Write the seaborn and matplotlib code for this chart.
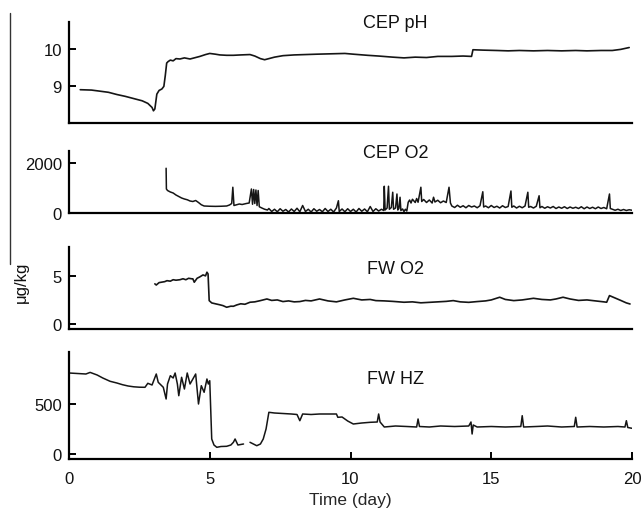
import matplotlib
matplotlib.use("Agg")
import matplotlib.pyplot as plt
from matplotlib.lines import Line2D
import numpy as np
import pandas as pd
import seaborn as sns

# ---- data (time in days) ----
ph_day = [0.4, 0.8, 1.1, 1.4, 1.7, 2.0, 2.3, 2.6, 2.8, 2.95, 3.0, 3.05, 3.12, 3.2, 3.3,
          3.37, 3.42, 3.47, 3.52, 3.6, 3.7, 3.8, 3.94, 4.1, 4.3, 4.5, 4.65, 4.85, 5.0, 5.2,
          5.36, 5.6, 5.84, 6.1, 6.43, 6.6, 6.8, 6.95, 7.1, 7.3, 7.6, 8.0, 8.4, 8.8, 9.3,
          9.8, 10.1, 10.6, 11.0, 11.5, 11.9, 12.3, 12.7, 13.1, 13.6, 14.0, 14.3, 14.35, 14.7, 15.2,
          15.6, 16.0, 16.5, 17.0, 17.5, 18.0, 18.4, 18.9, 19.3, 19.6, 19.9]
ph_val = [8.90, 8.89, 8.86, 8.83, 8.77, 8.72, 8.66, 8.60, 8.53, 8.42, 8.33, 8.38, 8.78, 8.88, 8.92,
          8.99, 9.28, 9.62, 9.66, 9.70, 9.68, 9.74, 9.73, 9.76, 9.73, 9.77, 9.80, 9.85, 9.88, 9.86,
          9.84, 9.83, 9.83, 9.84, 9.85, 9.81, 9.74, 9.71, 9.74, 9.78, 9.82, 9.84, 9.85, 9.86, 9.87,
          9.88, 9.86, 9.83, 9.81, 9.78, 9.76, 9.78, 9.77, 9.80, 9.80, 9.81, 9.80, 9.98, 9.97, 9.96,
          9.95, 9.96, 9.95, 9.96, 9.95, 9.96, 9.95, 9.96, 9.96, 9.99, 10.04]

cep_o2_day = [3.45, 3.46, 3.5, 3.6, 3.7, 3.8, 3.9, 4.0, 4.1, 4.2, 4.3, 4.4, 4.5, 4.6, 4.7,
              4.8, 5.0, 5.2, 5.4, 5.6, 5.7, 5.78, 5.82, 5.86, 5.95, 6.05, 6.15, 6.3, 6.4, 6.48,
              6.52, 6.56, 6.6, 6.64, 6.68, 6.72, 6.76, 6.85, 6.95, 7.05,
              7.1, 7.2, 7.3, 7.4, 7.5, 7.6, 7.7, 7.8, 7.9, 8.0, 8.1, 8.2, 8.3, 8.4, 8.5,
              8.6, 8.7, 8.8, 8.9, 9.0, 9.1, 9.2, 9.3, 9.4, 9.5, 9.57, 9.6, 9.7, 9.8, 9.9,
              10.0, 10.1, 10.2, 10.3, 10.4, 10.5, 10.6, 10.7, 10.8, 10.9, 11.0,
              11.1, 11.18, 11.2, 11.23, 11.3, 11.35, 11.38, 11.45, 11.5, 11.53, 11.6, 11.65, 11.68, 11.72, 11.76,
              11.79, 11.85, 11.9, 11.95, 12.0,
              12.05, 12.1, 12.15, 12.2, 12.3, 12.35, 12.4, 12.5, 12.53, 12.6, 12.7, 12.8, 12.9, 12.95, 13.0,
              13.1, 13.2, 13.3, 13.4, 13.5, 13.55,
              13.6, 13.7, 13.8, 13.9, 14.0, 14.1, 14.2, 14.3, 14.4, 14.5, 14.6, 14.7, 14.73, 14.8, 14.9,
              15.0, 15.1, 15.2, 15.3, 15.4, 15.5, 15.6, 15.7, 15.73, 15.8, 15.9, 16.0, 16.1, 16.2, 16.3,
              16.33, 16.4, 16.5, 16.6, 16.7, 16.73, 16.8, 16.9, 17.0, 17.1, 17.2, 17.3, 17.4, 17.5, 17.6,
              17.7, 17.8, 17.9, 18.0, 18.1, 18.2, 18.3, 18.4, 18.5, 18.6, 18.7, 18.8, 18.9, 19.0, 19.1,
              19.2, 19.23, 19.3, 19.4, 19.5, 19.6, 19.7, 19.8, 19.9, 20.0]
cep_o2_val = [1790, 960, 900, 840, 800, 720, 660, 600, 560, 530, 480, 460, 500, 420, 330,
              280, 270, 265, 270, 280, 320, 380, 1030, 300, 330, 360, 340, 380, 400, 960,
              350, 940, 380, 920, 300, 900, 250, 200, 150, 120,
              180, 60, 150, 50, 170, 70, 140, 40, 160, 60, 190, 50, 300, 60, 150,
              40, 170, 70, 140, 50, 180, 60, 150, 40, 200, 490, 60, 160, 50, 170,
              60, 150, 40, 180, 70, 160, 50, 260, 60, 170, 80,
              150, 100, 1070, 120, 200, 1070, 150, 220, 830, 150, 200, 760, 120, 180, 630,
              100, 160, 60, 150, 80,
              430, 520, 400, 550, 420, 580, 430, 1030, 460, 540, 420, 520, 400, 630, 440,
              510, 410, 480, 420, 1030, 400,
              280, 220, 310, 230, 290, 210, 300, 240, 280, 210, 290, 850, 240, 280, 210,
              300, 220, 270, 200, 290, 220, 260, 880, 230, 280, 200, 270, 210, 280, 830,
              230, 260, 200, 270, 690, 210, 260, 190, 250, 200, 260, 180, 240, 190, 250,
              180, 240, 190, 230, 180, 250, 170, 240, 180, 230, 170, 240, 180, 220, 170,
              760, 180, 150, 110, 150, 100, 140, 100, 130, 110]

fw_o2_day = [3.05, 3.1, 3.2, 3.3, 3.4, 3.48, 3.6, 3.7, 3.8, 3.94, 4.05, 4.15, 4.25, 4.35, 4.4,
             4.45, 4.55, 4.65, 4.76, 4.85, 4.9, 4.94, 4.98, 5.07, 5.2, 5.35, 5.47, 5.6, 5.75, 5.84,
             5.96, 6.1, 6.25, 6.43, 6.6, 6.8, 7.03, 7.2, 7.4, 7.6, 7.8, 8.0, 8.2, 8.4, 8.6,
             8.9, 9.2, 9.5, 9.8, 10.1, 10.4, 10.7, 10.9, 11.2, 11.5, 11.9, 12.2, 12.5, 12.8, 13.1,
             13.4, 13.65, 13.9, 14.2, 14.5, 14.8, 15.0, 15.3, 15.5, 15.8, 16.1, 16.5, 16.8, 17.1, 17.3,
             17.55, 17.8, 18.1, 18.4, 18.7, 19.0, 19.1, 19.2, 19.4, 19.6, 19.8, 19.93]
fw_o2_val = [4.17, 4.05, 4.3, 4.35, 4.4, 4.5, 4.45, 4.6, 4.55, 4.6, 4.7, 4.6, 4.75, 4.7, 4.69,
             4.34, 4.75, 4.9, 5.1, 5.0, 5.38, 5.2, 2.43, 2.19, 2.1, 2.0, 1.91, 1.74, 1.85, 1.84,
             1.98, 2.1, 2.05, 2.26, 2.3, 2.43, 2.6, 2.45, 2.5, 2.33, 2.4, 2.3, 2.33, 2.45, 2.4,
             2.6, 2.4, 2.3, 2.5, 2.67, 2.5, 2.55, 2.43, 2.4, 2.35, 2.26, 2.3, 2.2, 2.25, 2.3,
             2.35, 2.43, 2.3, 2.25, 2.33, 2.4, 2.5, 2.78, 2.55, 2.43, 2.5, 2.67, 2.55, 2.5, 2.6,
             2.78, 2.6, 2.45, 2.5, 2.4, 2.3, 2.26, 2.95, 2.7, 2.45, 2.19, 2.08]

# FW HZ has a short gap in the record around day 6.3
hz_day_a = [0.0, 0.3, 0.6, 0.75, 1.0, 1.2, 1.46, 1.7, 1.9, 2.1, 2.3, 2.5, 2.7, 2.8, 2.95,
            3.1, 3.17, 3.35, 3.45, 3.5, 3.6, 3.7, 3.77, 3.85, 3.9, 4.0, 4.1, 4.2, 4.3, 4.4,
            4.5, 4.6, 4.7, 4.8, 4.9, 4.95, 5.0, 5.07, 5.15, 5.25, 5.4, 5.6, 5.75, 5.84, 5.9,
            6.0, 6.1, 6.2]
hz_val_a = [810, 805, 800, 816, 790, 760, 727, 710, 693, 680, 672, 668, 667, 707, 690,
            800, 717, 667, 550, 700, 783, 760, 810, 700, 583, 767, 650, 810, 700, 750,
            800, 500, 683, 617, 750, 700, 733, 150, 90, 67, 75, 77, 90, 117, 150,
            90, 95, 100]
hz_day_b = [6.43, 6.55, 6.67, 6.8, 6.9, 7.0, 7.1, 7.3, 7.6, 7.9, 8.1, 8.2, 8.3, 8.6, 8.9,
            9.2, 9.5, 9.55, 9.7, 9.9, 10.1, 10.4, 10.7, 10.95, 11.0, 11.05, 11.2, 11.6, 12.0, 12.35,
            12.4, 12.45, 12.8, 13.2, 13.7, 14.2, 14.28, 14.32, 14.36, 14.5, 15.0, 15.5, 16.05, 16.1, 16.15,
            16.6, 17.0, 17.5, 17.95, 18.0, 18.05, 18.5, 19.0, 19.5, 19.75, 19.8, 19.85, 20.0]
hz_val_b = [117, 100, 83, 100, 150, 250, 417, 410, 405, 400, 395, 333, 400, 395, 400,
            400, 400, 367, 370, 330, 300, 310, 317, 320, 400, 320, 270, 280, 275, 270,
            350, 275, 270, 280, 275, 280, 320, 200, 290, 270, 275, 270, 275, 383, 270,
            275, 280, 270, 275, 367, 270, 275, 270, 275, 270, 333, 265, 257]

panel_titles = ["CEP pH", "CEP O2", "FW O2", "FW HZ"]
panel_yticks = [[9, 10], [0, 2000], [0, 5], [0, 500]]
panel_ylims = [(8.0, 10.73), (0, 2480), (-0.52, 8.0), (-50, 1020)]
x_ticks = [0, 5, 10, 15, 20]

# ---- style ----
sns.set_style("ticks")
plt.rcParams["font.family"] = ["Liberation Sans", "DejaVu Sans"]
plt.rcParams["font.size"] = 12

fig = plt.figure(figsize=(6.43, 5.10), dpi=100)

# axes boxes in figure fractions (left, bottom, width, height)
left, width = 69 / 643, 563 / 643
boxes = [(23, 124), (152, 214), (248, 330), (353, 460)]
title_y = [1.0, 0.98, 0.74, 0.75]

frames = [
    pd.DataFrame({"day": ph_day, "value": ph_val, "seg": 0}),
    pd.DataFrame({"day": cep_o2_day, "value": cep_o2_val, "seg": 0}),
    pd.DataFrame({"day": fw_o2_day, "value": fw_o2_val, "seg": 0}),
    pd.concat([
        pd.DataFrame({"day": hz_day_a, "value": hz_val_a, "seg": 0}),
        pd.DataFrame({"day": hz_day_b, "value": hz_val_b, "seg": 1}),
    ]),
]
line_widths = [1.2, 1.1, 1.2, 1.1]

for i, (top, bot) in enumerate(boxes):
    ax = fig.add_axes([left, 1 - bot / 510, width, (bot - top) / 510])
    sns.lineplot(data=frames[i], x="day", y="value", units="seg", estimator=None,
                 color="#151515", linewidth=line_widths[i], ax=ax)
    ax.set_xlim(0, 20)
    ax.set_ylim(*panel_ylims[i])
    ax.set_yticks(panel_yticks[i])
    ax.set_ylabel("")
    ax.set_xlabel("")
    sns.despine(ax=ax)
    for side in ["left", "bottom"]:
        ax.spines[side].set_linewidth(1.6)
        ax.spines[side].set_color("black")
    ax.tick_params(axis="both", direction="in", length=5, width=1.4, color="black",
                   labelsize=12, labelcolor="#111111")
    ax.tick_params(axis="y", pad=5)
    if i < 3:
        ax.set_xticks([])
    else:
        ax.set_xticks(x_ticks)
        ax.tick_params(axis="x", pad=9)
        ax.set_xlabel("Time (day)", fontsize=12.5, labelpad=4)
    ax.text(0.58, title_y[i], panel_titles[i], transform=ax.transAxes,
            ha="center", va="center", fontsize=13, color="#111111")
    ax.patch.set_alpha(0)

fig.text(21 / 643, 1 - 282 / 510, "μg/kg", rotation=90, ha="center", va="center",
         fontsize=12, color="#111111")
fig.add_artist(Line2D([10 / 643, 10 / 643], [1 - 14 / 510, 1 - 265 / 510],
                      color="#333333", linewidth=1.0))

fig.savefig("out.png", dpi=100)
